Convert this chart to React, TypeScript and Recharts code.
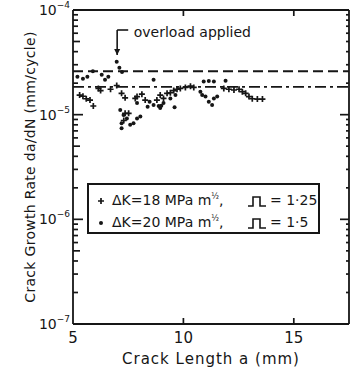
import React from 'react';
import { ScatterChart, Scatter, XAxis, YAxis, ReferenceLine, ReferenceDot } from 'recharts';

const INK = '#161616';
const FONT = '"DejaVu Sans", sans-serif';

// ΔK = 20 MPa m^1/2, overload ratio 1.5 (dots)
const dk20Length = [
  5.2, 5.45, 5.65, 5.9, 6.3, 6.45, 6.6, 6.98, 7.1, 7.22,
  7.14, 7.29, 7.44, 7.2, 7.2, 7.59, 7.74, 7.9, 8.05,
  7.9, 8.38, 8.47, 8.65, 8.88, 8.95, 9.0, 9.1, 9.41, 9.6, 9.64,
  8.65, 10.92, 11.15, 11.38, 11.91,
  10.77, 10.85, 11.0, 11.15, 11.3, 11.38, 11.53,
];
const dk20Rate = [
  2.3e-5, 2.2e-5, 2.3e-5, 2.6e-5, 2.4e-5, 2.15e-5, 2.3e-5, 3.2e-5, 2.8e-5, 2.55e-5,
  1.11e-5, 9.9e-6, 9.2e-6, 8.3e-6, 7.4e-6, 8.0e-6, 8.3e-6, 9.2e-6, 9.6e-6,
  1.29e-5, 1.19e-5, 1.33e-5, 1.24e-5, 1.21e-5, 1.16e-5, 1.22e-5, 1.29e-5, 1.43e-5, 1.18e-5, 1.54e-5,
  2.15e-5, 2.07e-5, 2.1e-5, 2.08e-5, 2.11e-5,
  1.66e-5, 1.54e-5, 1.49e-5, 1.33e-5, 1.24e-5, 1.43e-5, 1.49e-5,
];

// ΔK = 18 MPa m^1/2, overload ratio 1.25 (crosses)
const dk18Length = [
  5.3, 5.45, 5.6, 5.77, 5.92, 6.15, 6.25, 6.7, 6.98, 7.2, 7.36,
  7.36, 7.52, 7.3,
  7.82, 7.9, 8.12, 8.27, 8.8, 8.95, 9.1, 9.26, 9.41, 9.56, 9.71, 9.86, 10.09, 10.32, 10.47,
  11.83, 12.06, 12.29, 12.52, 12.67, 12.82, 12.97, 13.12, 13.35, 13.58,
];
const dk18Rate = [
  1.54e-5, 1.5e-5, 1.42e-5, 1.38e-5, 1.21e-5, 1.78e-5, 1.7e-5, 1.75e-5, 1.9e-5, 1.6e-5, 1.45e-5,
  1.03e-5, 1.03e-5, 8.8e-6,
  1.43e-5, 1.49e-5, 1.57e-5, 1.38e-5, 1.38e-5, 1.54e-5, 1.43e-5, 1.6e-5, 1.62e-5, 1.7e-5, 1.75e-5, 1.78e-5, 1.82e-5, 1.87e-5, 1.82e-5,
  1.78e-5, 1.75e-5, 1.72e-5, 1.75e-5, 1.66e-5, 1.6e-5, 1.49e-5, 1.42e-5, 1.41e-5, 1.41e-5,
];

const decades = [1e-7, 1e-6, 1e-5, 1e-4];
const lengthTicks = [5, 10, 15];
const lengthDomain = [5, 17.5];

// mean growth-rate levels (dashed / dash-dot)
const meanRate20 = 2.6e-5;
const meanRate18 = 1.84e-5;

// "overload applied" marker
const overloadAt = 7.0;
const overloadTop = 6.44e-5;
const overloadTip = 3.72e-5;

// chart frame
const W = 351;
const H = 371;
const margin = { top: 10, right: 2, bottom: 0, left: 0 };
const plotRight = W - margin.right;
const plotTop = margin.top;

const data20 = dk20Length.map((a, i) => ({ a, rate: dk20Rate[i] }));
const data18 = dk18Length.map((a, i) => ({ a, rate: dk18Rate[i] }));

const rateTicks: number[] = [];
decades.slice(0, 3).forEach((d) => {
  for (let m = 1; m < 10; m++) rateTicks.push(m * d);
});
rateTicks.push(decades[3]);

function tickInfo(v: number) {
  const lg = Math.log10(v);
  const exp = Math.round(lg);
  const major = Math.abs(lg - exp) < 1e-6;
  const mant = Math.round(v / Math.pow(10, Math.floor(lg + 1e-9)));
  return { exp, major, mant };
}

// left ticks point inward; the matching right-frame tick is drawn here too
const LeftTick = (props: any) => {
  const { x, y, payload } = props;
  const { exp, major, mant } = tickInfo(payload.value);
  const len = major ? 10 : mant === 5 ? 7 : 5;
  const rlen = major ? 9 : 3;
  return (
    <g>
      <line x1={x} x2={x + len} y1={y} y2={y} stroke={INK} strokeWidth={1.7} />
      <line x1={plotRight} x2={plotRight - rlen} y1={y} y2={y} stroke={INK} strokeWidth={1.7} />
      {major && (
        <text x={x - 3} y={y + 5} textAnchor="end" fontSize={14} fill={INK} fontFamily={FONT}>
          10
          <tspan dy={-7} fontSize={9}>
            −{-exp}
          </tspan>
        </text>
      )}
    </g>
  );
};

const BottomTick = (props: any) => {
  const { x, y, payload } = props;
  const inner = payload.value !== lengthDomain[0];
  return (
    <g>
      {inner && <line x1={x} x2={x} y1={y} y2={y - 6} stroke={INK} strokeWidth={1.7} />}
      {inner && <line x1={x} x2={x} y1={plotTop} y2={plotTop + 6} stroke={INK} strokeWidth={1.7} />}
      <text x={x} y={y + 19} textAnchor="middle" fontSize={15} fill={INK} fontFamily={FONT}>
        {payload.value}
      </text>
    </g>
  );
};

const Cross = (props: any) => {
  const { cx, cy } = props;
  return <path d={`M${cx - 3} ${cy}h6M${cx} ${cy - 3}v6`} stroke={INK} strokeWidth={1.7} />;
};

const Dot = (props: any) => {
  const { cx, cy } = props;
  return <circle cx={cx} cy={cy} r={2} fill={INK} />;
};

const Arrowhead = (props: any) => {
  const { cx, cy } = props;
  return <path d={`M${cx - 3} ${cy - 6}L${cx + 3} ${cy - 6}L${cx} ${cy}Z`} fill={INK} />;
};

const OverloadText = (props: any) => {
  const { cx, cy } = props;
  return (
    <text x={cx} y={cy + 5} fontSize={14} fill={INK} fontFamily={FONT}>
      overload applied
    </text>
  );
};

function Pulse() {
  return (
    <svg width="18" height="12" viewBox="0 0 18 12" style={{ verticalAlign: '-1px' }}>
      <path d="M0 11H5V2H12V11H18" fill="none" stroke={INK} strokeWidth="1.6" />
    </svg>
  );
}

const legendRows = [
  { marker: 'cross', label: 'ΔK=18 MPa m', ratio: '= 1·25' },
  { marker: 'dot', label: 'ΔK=20 MPa m', ratio: '= 1·5' },
];

function LegendBox() {
  return (
    <div
      style={{
        position: 'absolute',
        left: 87,
        top: 183,
        width: 233,
        height: 51,
        boxSizing: 'border-box',
        border: `2px solid ${INK}`,
        background: '#fff',
        fontFamily: FONT,
        fontSize: 14,
        color: INK,
      }}
    >
      {legendRows.map((r, i) => (
        <div key={r.label} style={{ position: 'absolute', top: 7 + i * 22, left: 0, height: 16, width: '100%' }}>
          <svg width="10" height="10" style={{ position: 'absolute', left: 7, top: 4 }}>
            {r.marker === 'cross' ? <Cross cx={5} cy={5} /> : <Dot cx={5} cy={5} />}
          </svg>
          <span style={{ position: 'absolute', left: 23, top: 0, whiteSpace: 'nowrap' }}>
            {r.label}
            <sup style={{ fontSize: 8 }}>½</sup>,
          </span>
          <span style={{ position: 'absolute', left: 159, top: 1 }}>
            <Pulse />
          </span>
          <span style={{ position: 'absolute', left: 181, top: 0, whiteSpace: 'nowrap' }}>{r.ratio}</span>
        </div>
      ))}
    </div>
  );
}

export default function App() {
  return (
    <div style={{ position: 'absolute', left: 0, top: 0, width: W, height: H, background: '#fff' }}>
      <ScatterChart width={W} height={H} margin={margin}>
        <XAxis
          xAxisId="bottom"
          dataKey="a"
          type="number"
          domain={lengthDomain}
          allowDataOverflow
          ticks={lengthTicks}
          interval={0}
          height={47}
          tickSize={0}
          tickMargin={0}
          tick={BottomTick}
          tickLine={false}
          axisLine={{ stroke: INK, strokeWidth: 1.8 }}
          label={(p: any) => {
            const vb = p.viewBox;
            return (
              <text
                x={vb.x + vb.width / 2}
                y={vb.y + 40}
                textAnchor="middle"
                fontSize={15}
                letterSpacing={1}
                fill={INK}
                fontFamily={FONT}
              >
                Crack Length a (mm)
              </text>
            );
          }}
        />
        <YAxis
          yAxisId="left"
          dataKey="rate"
          type="number"
          scale="log"
          domain={[decades[0], decades[3]]}
          allowDataOverflow
          ticks={rateTicks}
          interval={0}
          width={73}
          tickSize={0}
          tickMargin={0}
          tick={LeftTick}
          tickLine={false}
          axisLine={{ stroke: INK, strokeWidth: 1.8 }}
          label={(p: any) => {
            const vb = p.viewBox;
            const cx = vb.x + 30;
            const cy = vb.y + vb.height / 2;
            return (
              <text
                x={cx}
                y={cy}
                transform={`rotate(-90 ${cx} ${cy})`}
                textAnchor="middle"
                dominantBaseline="central"
                fontSize={14}
                letterSpacing={0.3}
                fill={INK}
                fontFamily={FONT}
              >
                Crack Growth Rate da/dN (mm/cycle)
              </text>
            );
          }}
        />

        {/* top and right frame */}
        <ReferenceLine xAxisId="bottom" yAxisId="left" y={decades[3]} stroke={INK} strokeWidth={1.8} />
        <ReferenceLine xAxisId="bottom" yAxisId="left" x={lengthDomain[1]} stroke={INK} strokeWidth={1.8} />

        <ReferenceLine xAxisId="bottom" yAxisId="left" y={meanRate20} stroke={INK} strokeWidth={1.8} strokeDasharray="10 5" />
        <ReferenceLine xAxisId="bottom" yAxisId="left" y={meanRate18} stroke={INK} strokeWidth={1.8} strokeDasharray="11 4 3 4" />

        <ReferenceLine
          xAxisId="bottom"
          yAxisId="left"
          segment={[
            { x: overloadAt, y: overloadTop },
            { x: overloadAt, y: overloadTip },
          ]}
          stroke={INK}
          strokeWidth={1.6}
        />
        <ReferenceLine
          xAxisId="bottom"
          yAxisId="left"
          segment={[
            { x: overloadAt, y: overloadTop },
            { x: 7.5, y: overloadTop },
          ]}
          stroke={INK}
          strokeWidth={1.6}
        />
        <ReferenceDot xAxisId="bottom" yAxisId="left" x={overloadAt} y={overloadTip} shape={Arrowhead} />
        <ReferenceDot xAxisId="bottom" yAxisId="left" x={7.75} y={6.16e-5} shape={OverloadText} />

        <Scatter
          name="ΔK=18 MPa m½, 1·25"
          xAxisId="bottom"
          yAxisId="left"
          data={data18}
          shape={Cross}
          isAnimationActive={false}
        />
        <Scatter
          name="ΔK=20 MPa m½, 1·5"
          xAxisId="bottom"
          yAxisId="left"
          data={data20}
          shape={Dot}
          isAnimationActive={false}
        />
      </ScatterChart>
      <LegendBox />
    </div>
  );
}
